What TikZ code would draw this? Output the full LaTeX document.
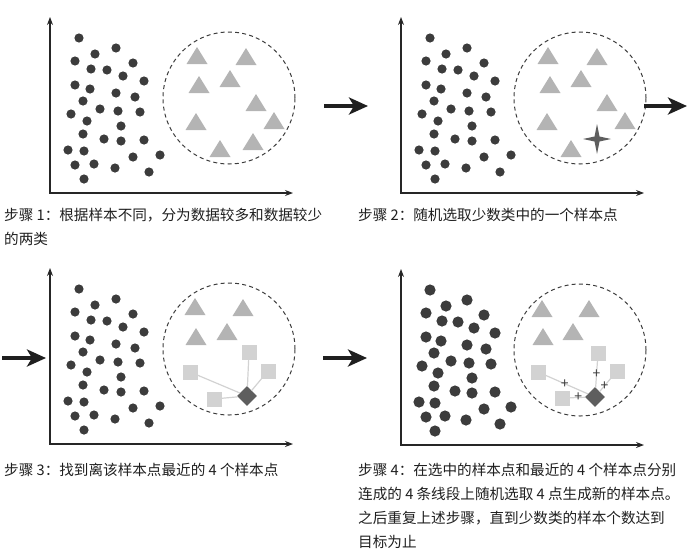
\documentclass[tikz,border=0pt]{standalone}
\usepackage{fontspec}
\setmainfont{Noto Sans CJK SC}
\usetikzlibrary{arrows.meta}

\definecolor{ink}{HTML}{3C3C3C}
\definecolor{tri}{HTML}{B4B4B4}
\definecolor{sq}{HTML}{D2D2D2}
\definecolor{seed}{HTML}{5E5E5E}

% the majority class, local to the axis corner
\newcommand\cloud{29/-155,66/-145,45/-139,25/-132,83/-130,41/-124,57/-123,
  73/-117,94/-112,25/-108,40/-104,66/-100,85/-96,33/-92,50/-84,68/-82,
  90/-81,21/-79,37/-72,71/-67,33/-59,54/-54,71/-52,94/-53,18/-43,34/-42,
  83/-36,110/-38,25/-28,44/-29,65/-25,99/-21,34/-14}

\newcommand\basepanel[1]{%
  \draw[axis] (0,-176) -- (0,0) -- (243,0);
  \foreach \x/\y in \cloud {\fill[ink] (\x,\y) circle[radius=#1];}
  \draw[region] (179,-95) circle[radius=66pt];
}

\begin{document}
\begin{tikzpicture}[
  x=1pt, y=-1pt,
  axis/.style={{Stealth[length=8pt,width=6pt]}-{Stealth[length=8pt,width=6pt]},
               line width=1.1pt, black!85, line join=miter},
  region/.style={draw=ink, line width=1pt, dash pattern=on 4pt off 3.2pt},
  jump/.style={-{Stealth[length=19pt,width=17pt,inset=5pt]}, line width=4.5pt, black!88},
  trishape/.style={fill=tri},
  sample/.style={fill=sq, minimum size=15pt, inner sep=0pt},
  seedpt/.style={fill=seed, minimum size=14pt, inner sep=0pt, rotate=45},
  link/.style={draw=sq, line width=1.2pt},
  newpt/.style={inner sep=0pt, text=ink, font=\fontsize{14}{14}\selectfont},
  caption/.style={anchor=north west, inner sep=0pt, align=left, text=black!88,
                  font=\fontsize{14.6}{24}\selectfont}
]
\useasboundingbox (0,0) rectangle (696,552);

% step 1
\begin{scope}[shift={(50,193)}]
  \basepanel{4.6pt}
  \foreach \x/\y in {147/-137,196/-136,180/-114,149/-108,206/-90,146/-71,
                     224/-72,203/-51,170/-44}
    \fill[trishape] (\x,\y) ++(-10.5,8) -- ++(21,0) -- ++(-10.5,-17) -- cycle;
\end{scope}

% step 2
\begin{scope}[shift={(401,193)}]
  \basepanel{4.6pt}
  \foreach \x/\y in {147/-137,196/-136,180/-114,149/-108,206/-90,146/-71,
                     224/-72,170/-44}
    \fill[trishape] (\x,\y) ++(-10.5,8) -- ++(21,0) -- ++(-10.5,-17) -- cycle;
  \fill[seed, shift={(196,-54)}] (0,-15) -- (2.5,-2.5) -- (14,0) -- (2.5,2.5)
    -- (0,15) -- (-2.5,2.5) -- (-14,0) -- (-2.5,-2.5) -- cycle;
\end{scope}

% step 3
\begin{scope}[shift={(50,444)}]
  \basepanel{4.6pt}
  \foreach \x/\y in {145/-137,193/-136,177/-112,146/-107}
    \fill[trishape] (\x,\y) ++(-10.5,8) -- ++(21,0) -- ++(-10.5,-17) -- cycle;
  \node[sample] (s3a) at (199,-92) {};
  \node[sample] (s3b) at (140,-72) {};
  \node[sample] (s3c) at (218,-73) {};
  \node[sample] (s3d) at (164,-45) {};
  \node[seedpt] (d3) at (197,-48) {};
  \draw[link] (d3) -- (s3a);
  \draw[link] (d3) -- (s3b);
  \draw[link] (d3) -- (s3c);
  \draw[link] (d3) -- (s3d);
\end{scope}

% step 4
\begin{scope}[shift={(401,445)}]
  \basepanel{5.6pt}
  \foreach \x/\y in {141/-136,188/-136,142/-108,172/-113}
    \fill[trishape] (\x,\y) ++(-10.5,8) -- ++(21,0) -- ++(-10.5,-17) -- cycle;
  \node[sample] (s4a) at (197,-92) {};
  \node[sample] (s4b) at (137,-73) {};
  \node[sample] (s4c) at (216,-74) {};
  \node[sample] (s4d) at (161,-47) {};
  \node[seedpt] (d4) at (194,-48) {};
  \draw[link] (d4) -- node[newpt, pos=.5] (n4a) {+} (s4a);
  \draw[link] (d4) -- node[newpt, pos=.55] (n4b) {+} (s4b);
  \draw[link] (d4) -- node[newpt, pos=.45] (n4c) {+} (s4c);
  \draw[link] (d4) -- node[newpt, pos=.45] (n4d) {+} (s4d);
\end{scope}

% arrows between the steps
\coordinate (a1s) at (324,106);  \coordinate (a1e) at (368,106);
\coordinate (a2s) at (644,106);  \coordinate (a2e) at (687,106);
\coordinate (a3s) at (2,358);    \coordinate (a3e) at (46,358);
\coordinate (a4s) at (323,358);  \coordinate (a4e) at (367,358);
\draw[jump] (a1s) -- (a1e);
\draw[jump] (a2s) -- (a2e);
\draw[jump] (a3s) -- (a3e);
\draw[jump] (a4s) -- (a4e);

\node[caption] (cap1) at (4,208) {步骤 1：根据样本不同，分为数据较多和数据较少\\的两类};
\node[caption] (cap2) at (358,208) {步骤 2：随机选取少数类中的一个样本点};
\node[caption] (cap3) at (4,463) {步骤 3：找到离该样本点最近的 4 个样本点};
\node[caption] (cap4) at (358,463) {步骤 4：在选中的样本点和最近的 4 个样本点分别\\
  连成的 4 条线段上随机选取 4 点生成新的样本点。\\
  之后重复上述步骤，直到少数类的样本个数达到\\
  目标为止};
\end{tikzpicture}
\end{document}
